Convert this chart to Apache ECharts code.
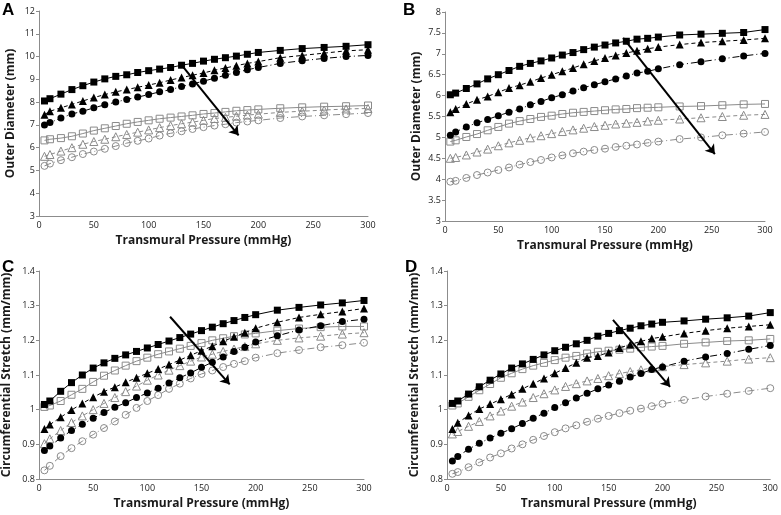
<!DOCTYPE html>
<html><head><meta charset="utf-8">
<script src="https://cdn.jsdelivr.net/npm/echarts@6/dist/echarts.min.js"></script>
<style>html,body{margin:0;padding:0;background:#fff}#c{width:781px;height:515px}</style>
</head><body><div id="c"></div>
<script>
const pressure = [5,10,20,30,40,50,60,70,80,90,100,110,120,130,140,150,160,170,180,190,200,220,240,260,280,300];

// Panel A – Outer Diameter (mm)
const A_fSq = [8.05,8.15,8.35,8.55,8.72,8.88,9.02,9.13,9.2,9.3,9.38,9.45,9.52,9.62,9.7,9.8,9.88,9.95,10.02,10.1,10.18,10.27,10.35,10.4,10.45,10.52];
const A_fTr = [7.45,7.6,7.75,7.9,8.05,8.2,8.33,8.45,8.55,8.65,8.75,8.85,8.97,9.08,9.18,9.28,9.4,9.5,9.6,9.7,9.78,9.95,10.05,10.15,10.25,10.3];
const A_fCi = [7.0,7.1,7.3,7.48,7.6,7.75,7.88,8.0,8.12,8.22,8.33,8.45,8.55,8.68,8.8,8.92,9.05,9.18,9.3,9.42,9.52,9.7,9.82,9.92,10.0,10.05];
const A_oSq = [6.32,6.37,6.42,6.5,6.62,6.75,6.85,6.95,7.05,7.13,7.2,7.27,7.32,7.37,7.42,7.48,7.52,7.57,7.62,7.65,7.68,7.73,7.77,7.8,7.82,7.85];
const A_oTr = [5.62,5.7,5.85,6.0,6.15,6.27,6.37,6.48,6.58,6.68,6.78,6.88,6.97,7.05,7.12,7.2,7.28,7.33,7.38,7.43,7.47,7.55,7.6,7.65,7.7,7.72];
const A_oCi = [5.2,5.3,5.45,5.58,5.72,5.83,5.95,6.07,6.2,6.3,6.4,6.53,6.63,6.72,6.82,6.9,6.97,7.03,7.1,7.15,7.2,7.3,7.37,7.42,7.47,7.52];

// Panel B – Outer Diameter (mm)
const B_fSq = [6.02,6.06,6.17,6.28,6.4,6.5,6.6,6.7,6.77,6.83,6.9,6.97,7.03,7.1,7.16,7.21,7.26,7.3,7.35,7.37,7.4,7.45,7.47,7.49,7.51,7.58];
const B_fTr = [5.6,5.68,5.8,5.9,5.98,6.08,6.18,6.25,6.33,6.42,6.5,6.58,6.66,6.75,6.83,6.9,6.96,7.02,7.07,7.12,7.16,7.22,7.27,7.3,7.33,7.37];
const B_fCi = [5.05,5.13,5.25,5.35,5.43,5.52,5.6,5.68,5.78,5.86,5.95,6.02,6.11,6.19,6.26,6.33,6.4,6.47,6.54,6.58,6.64,6.74,6.81,6.88,6.95,7.01];
const B_oSq = [4.9,4.93,5.01,5.08,5.17,5.25,5.33,5.39,5.44,5.49,5.52,5.56,5.59,5.61,5.63,5.65,5.67,5.68,5.7,5.71,5.72,5.74,5.75,5.77,5.79,5.8];
const B_oTr = [4.5,4.52,4.58,4.65,4.72,4.8,4.87,4.93,4.99,5.04,5.09,5.14,5.18,5.22,5.26,5.29,5.32,5.34,5.36,5.39,5.41,5.44,5.47,5.5,5.53,5.55];
const B_oCi = [3.94,3.96,4.03,4.1,4.16,4.22,4.28,4.35,4.41,4.46,4.52,4.57,4.62,4.66,4.7,4.73,4.77,4.8,4.83,4.87,4.9,4.96,5.0,5.05,5.09,5.13];

// Panel C – Circumferential Stretch (mm/mm)
const C_fSq = [1.015,1.025,1.053,1.078,1.1,1.12,1.135,1.148,1.158,1.168,1.178,1.188,1.198,1.208,1.218,1.228,1.238,1.248,1.257,1.266,1.274,1.287,1.295,1.302,1.308,1.315];
const C_fTr = [0.944,0.957,0.978,0.999,1.018,1.036,1.052,1.065,1.079,1.092,1.105,1.117,1.13,1.143,1.157,1.17,1.183,1.197,1.21,1.222,1.235,1.252,1.266,1.275,1.283,1.292];
const C_fCi = [0.882,0.895,0.918,0.94,0.958,0.975,0.992,1.007,1.02,1.035,1.048,1.062,1.077,1.092,1.106,1.122,1.137,1.152,1.168,1.18,1.195,1.213,1.23,1.242,1.254,1.261];
const C_oSq = [1.008,1.012,1.025,1.043,1.06,1.08,1.098,1.113,1.127,1.14,1.15,1.16,1.168,1.176,1.184,1.192,1.2,1.206,1.212,1.217,1.22,1.228,1.234,1.238,1.24,1.24];
const C_oTr = [0.902,0.916,0.94,0.963,0.982,1.0,1.018,1.035,1.052,1.068,1.085,1.1,1.114,1.127,1.14,1.152,1.16,1.168,1.175,1.182,1.19,1.2,1.207,1.212,1.218,1.222];
const C_oCi = [0.825,0.838,0.866,0.889,0.909,0.928,0.947,0.966,0.985,1.005,1.025,1.042,1.06,1.075,1.09,1.103,1.113,1.123,1.132,1.14,1.15,1.163,1.172,1.18,1.186,1.193];

// Panel D – Circumferential Stretch (mm/mm)
const D_fSq = [1.018,1.025,1.045,1.066,1.085,1.103,1.12,1.132,1.145,1.158,1.17,1.18,1.19,1.2,1.212,1.22,1.228,1.235,1.242,1.247,1.252,1.256,1.261,1.265,1.27,1.28];
const D_fTr = [0.944,0.962,0.983,1.002,1.016,1.03,1.044,1.06,1.075,1.09,1.105,1.12,1.135,1.15,1.155,1.165,1.178,1.188,1.197,1.205,1.21,1.22,1.228,1.235,1.24,1.245];
const D_fCi = [0.852,0.865,0.886,0.903,0.918,0.932,0.945,0.96,0.975,0.99,1.006,1.02,1.034,1.047,1.06,1.071,1.082,1.094,1.104,1.116,1.123,1.14,1.152,1.162,1.174,1.185];
const D_oSq = [1.012,1.018,1.037,1.056,1.074,1.092,1.105,1.117,1.127,1.135,1.143,1.15,1.155,1.162,1.167,1.17,1.173,1.176,1.18,1.182,1.184,1.19,1.194,1.198,1.2,1.204];
const D_oTr = [0.93,0.937,0.952,0.966,0.982,0.996,1.01,1.022,1.035,1.046,1.057,1.067,1.075,1.083,1.09,1.098,1.104,1.11,1.115,1.12,1.124,1.13,1.135,1.14,1.146,1.15];
const D_oCi = [0.815,0.82,0.834,0.848,0.862,0.874,0.888,0.9,0.913,0.924,0.935,0.946,0.955,0.965,0.974,0.982,0.99,0.997,1.003,1.01,1.017,1.028,1.038,1.046,1.054,1.062];

// Arrow annotations [x0, y0, x1, y1] in data units
const arrowA = [129, 9.69, 182, 6.54];
const arrowB = [167, 7.38, 253, 4.6];
const arrowC = [121, 1.268, 176, 1.073];
const arrowD = [154, 1.259, 207, 1.066];

const panelLetters = ['A','B','C','D'];
const yTitles = ['Outer Diameter (mm)','Outer Diameter (mm)','Circumferential Stretch (mm/mm)','Circumferential Stretch (mm/mm)'];
const xTitle = 'Transmural Pressure (mmHg)';
const yRanges = [[3,12,1],[3,8,0.5],[0.8,1.4,0.1],[0.8,1.4,0.1]];

const panels = [
  {sets:[A_fSq,A_fTr,A_fCi,A_oSq,A_oTr,A_oCi], arrow:arrowA},
  {sets:[B_fSq,B_fTr,B_fCi,B_oSq,B_oTr,B_oCi], arrow:arrowB},
  {sets:[C_fSq,C_fTr,C_fCi,C_oSq,C_oTr,C_oCi], arrow:arrowC},
  {sets:[D_fSq,D_fTr,D_fCi,D_oSq,D_oTr,D_oCi], arrow:arrowD}
];

const grids = [
  {left:39, top:11, width:329, height:205},
  {left:445, top:12, width:320, height:209},
  {left:39, top:271, width:325, height:208},
  {left:447, top:271, width:326, height:208}
];
const letterPos = [[2,2],[403,2],[2,259],[405,259]];

const FONT = 'Open Sans';
const axisCol = '#8c8c8c';
const styles = [
  {sym:'rect', open:false, type:'solid'},
  {sym:'triangle', open:false, type:[4,3]},
  {sym:'circle', open:false, type:[7,3,1,3]},
  {sym:'rect', open:true, type:'solid'},
  {sym:'triangle', open:true, type:[4,3]},
  {sym:'circle', open:true, type:[7,3,1,3]}
];

const xAxis = [], yAxis = [], series = [];
grids.forEach((g, i) => {
  xAxis.push({
    gridIndex:i, type:'value', min:0, max:300, interval:50,
    name:xTitle, nameLocation:'middle', nameGap:19,
    nameTextStyle:{fontFamily:FONT, fontWeight:'bold', fontSize:12, color:'#1a1a1a'},
    axisLine:{lineStyle:{color:axisCol}}, axisTick:{show:false},
    axisLabel:{fontFamily:FONT, fontSize:9, color:'#222', margin:5},
    splitLine:{show:false}
  });
  const r = yRanges[i];
  yAxis.push({
    gridIndex:i, type:'value', min:r[0], max:r[1], interval:r[2],
    name:yTitles[i], nameLocation:'middle', nameGap: i<2 ? 22 : 26,
    nameTextStyle:{fontFamily:FONT, fontWeight:'bold', fontSize:12, color:'#1a1a1a'},
    axisLine:{show:true, lineStyle:{color:axisCol}},
    axisTick:{show:true, length:3, lineStyle:{color:axisCol}},
    axisLabel:{fontFamily:FONT, fontSize:9, color:'#222', margin:4,
      formatter: v => String(Math.round(v*100)/100)},
    splitLine:{show:false}
  });
  const p = panels[i];
  p.sets.forEach((vals, k) => {
    const st = styles[k];
    const col = st.open ? '#8a8a8a' : '#000';
    series.push({
      type:'line', xAxisIndex:i, yAxisIndex:i,
      data: pressure.map((x, j) => [x, vals[j]]),
      symbol: st.sym, symbolSize: st.sym==='triangle' ? 8 : 7,
      showAllSymbol:true, silent:true, animation:false,
      lineStyle:{color:col, width:1, type:st.type},
      itemStyle: st.open ? {color:'rgba(255,255,255,0)', borderColor:col, borderWidth:1} : {color:'#000', borderColor:'#000', borderWidth:0},
      z: st.open ? 2 : 3
    });
  });
  const a = p.arrow;
  series.push({
    type:'line', xAxisIndex:i, yAxisIndex:i, data:[], silent:true, animation:false,
    markLine:{
      silent:true, animation:false, symbol:['none','arrow'], symbolSize:9,
      label:{show:false},
      lineStyle:{color:'#000', width:2, type:'solid'},
      data:[[{coord:[a[0],a[1]]},{coord:[a[2],a[3]]}]]
    },
    z:5
  });
});

const graphic = panelLetters.map((t, i) => ({
  type:'text', left: letterPos[i][0], top: letterPos[i][1],
  style:{text:t, font:'bold 17px "Liberation Sans", Arial', fill:'#000'}
}));

const chart = echarts.init(document.getElementById('c'), null, {renderer:'canvas'});
chart.setOption({animation:false, grid:grids, xAxis, yAxis, series, graphic});
</script>
</body></html>
